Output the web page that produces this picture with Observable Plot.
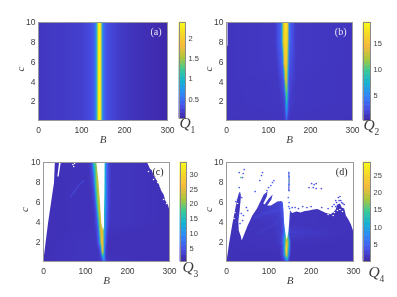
<!DOCTYPE html>
<html><head><meta charset="utf-8">
<script src="https://cdn.jsdelivr.net/npm/d3@7"></script>
<script src="https://cdn.jsdelivr.net/npm/@observablehq/plot@0.6"></script>
<style>
html,body{margin:0;padding:0;background:#fff;width:397px;height:297px;overflow:hidden}
#root{position:relative;width:397px;height:297px;filter:blur(0.45px)}
svg{position:absolute;overflow:visible;background:transparent}
</style></head><body><div id="root"></div>
<script>
// Parula anchors
const parulaStops = [0,.125,.25,.375,.5,.625,.75,.875,1];
const parulaColors = ["#3e26a8","#4752ea","#2e87f7","#11b1d6","#37c897","#abc739","#f5b93a","#f5d825","#f9fb15"];

const xTicks = [0,100,200,300];
const yTicks = [2,4,6,8,10];

// (a) Q1: same profile at every c
const a_c = [0.1,10];
const a_B = [0,60,100,120,128,133,135.5,137,139,142,144.5,146,147.5,150,155,165,185,220,260,300];
const a_Q = [.14,.17,.2,.28,.38,.55,.95,1.6,2.3,2.38,2.3,1.7,1,.55,.36,.26,.18,.12,.08,.05];

// (b) Q2
const b_c = [0.1,2,4,6,8,10];
const b_B = [
 [0,134,140,142,143,144,146,150,300],
 [0,128,136,140,141.5,143,144.5,147,150,165,300],
 [0,122,132,137,139.5,142,144.5,147,150,165,300],
 [0,118,128,134,137,141.5,145.5,148,151,165,300],
 [0,115,124,131,135.5,141,145.5,148.5,152,165,300],
 [0,115,124,131,136,141,146,149,153,165,300]];
const b_Q = [
 [.9,1,1.4,3,6,3,1.4,1,.9],
 [1,1.1,1.5,2.5,7,10.5,7,2.5,1.5,1.1,1],
 [1,1.1,2,3,11,14.5,11,3.5,2,1.1,1],
 [1,1.2,2.5,4,14,16.5,13,4.5,2.5,1.2,1],
 [1,1.2,2.5,4,15,17.5,15,5,3,1.2,1],
 [1,1.2,2.5,4,15,18.5,15,5,3,1.2,1]];

// (c) Q3
const c_c = [0.1,1,2,4,6,8,10];
const c_B = [
 [0,136,141,144,147,152,300],
 [0,132,137,140,142.5,145,148,154,300],
 [0,126,133,137,141,144,147,153,300],
 [0,120,128,133,137,144,146.5,151,158,300],
 [0,116,123,128,133,145.5,147.5,152,160,300],
 [0,110,119,124,129,146,148,152,160,300],
 [0,106,115,119,124,146,148,152,160,300]];
const c_Q = [
 [1.5,2,4,9,4,2,1.5],
 [1.5,2,6,25,22,8,3,1.5],
 [1.5,2,7,24,28,14,6,1.5],
 [1.5,1.7,5,20,25,16,10,5,2,1.5],
 [1.5,1.7,4,18,24,14,11,5,2,1.5],
 [1.5,1.7,4,17,24,14,11,5,2,1.5],
 [1.5,1.7,4,16,20,14,10,5,2,1.5]];
const c_holeLeftB = [0,5,11,18,25,27,0];
const c_holeLeftC = [0.3,2,4,6,8,10,10];
const c_streakB = [33,36,41,37];
const c_streakC = [8.6,8.6,10,10];
const c_holeMidB = [126,131,134.5,137.5,139.5,142,144,144,145,145.5];
const c_holeMidC = [10,8,6,4,3.6,3.2,3.6,5,7,10];
const c_holeRightB = [247,252,258,262,270,276,280,286,290,296,300,300];
const c_holeRightC = [10,9.5,9.2,8.7,8.2,7.7,7.2,6.8,6.2,5.8,5.2,10];
const c_flakeB = [70,74,72,250,255,262,264,272,278,286,293];
const c_flakeC = [9.8,9.9,9.6,9.1,9.4,8.3,8.9,8.0,7.6,6.3,5.9];
const c_glowB = [65,80,95];
const c_glowC = [6.6,7.5,8.2];

// (d) Q4
const d_c = [0.1,.8,1.4,2,3,4,5,6,10];
const d_B = [
 [0,130,138,142,146,152,300],
 [0,125,133,138,142,146,150,300],
 [0,125,132,137,140.5,145,149,153,300],
 [0,118,130,136,140,144,148,152,300],
 [0,110,130,136,141,145,148,300],
 [0,70,110,128,134,139,146,150,300],
 [0,60,90,125,133,140,148,152,300],
 [0,60,90,125,133,140,148,152,300],
 [0,120,135,146,150,300]];
const d_Q = [
 [1,1,2.5,6,2.5,1,1],
 [1,1,3,12,24,10,2,1],
 [1,1.1,2.5,9,27,16,6,1,1],
 [1,1.2,2.5,8,18,22,10,1.2,1],
 [1.1,1.3,2,5,15,13,2,1.1],
 [1.2,1.3,1.5,2,3.5,8,6,1.3,1.1],
 [1.2,1.4,1.8,2.2,3.5,7,5,1.3,1.1],
 [1.2,1.4,1.8,2.4,4.5,7,5,1.3,1.2],
 [1.2,1.2,2,2,1.2,1.2]];
const d_outB = [0,6,14,20,24,29,32,34,31,28,29,34,36,50,61,72,80,88,97,95,87,90,100,109,106,96,105,120,130,133,135,136,139,141,143,146,148,149.5,150,155,165,175,185,195,205,215,225,235,245,252,258,262,268,272,278,282,288,294,298,300,300,0];
const d_outC = [.1,1.9,3.9,5.2,6.1,6.9,7.1,6.6,5.2,4.1,3.2,2.6,2.2,3.7,4.7,5.4,6.1,6.8,7.1,6.6,5.9,5.8,6.4,6.8,6.3,5.7,5.7,6.1,6.15,6,5,4,3,2.4,2.4,3,4,5,5.2,4.95,5.1,5,5.15,5.2,5.3,5.35,5.15,4.95,4.85,5,5.3,5.8,5.9,5.5,5.4,4.7,4.3,3.8,3.3,3,10,10];
const d_dotB = [41.7,39.4,37.8,33.9,30,30,31.5,26,22,36,47,50,67.7,85,82.7,78.7,112,108.6,104.7,99.2,95.3,91.3,147,147.5,148,147.5,148,146,148,147,149,201,207,212,205,195,212,224,155,162,170,180,190,200,225,240,250,258,264,268,270,254,275,278,28,32,38,35,40,260,266,272,262,258];
const d_dotC = [9.3,8.9,8.5,8.5,9,7.5,6.8,6.3,6.1,6.5,5.5,5.2,7.1,9,8.7,8.2,8.2,8,7.7,7.5,7.2,6.8,9,8.6,8.2,7.8,7.2,6.5,6,5.6,5.4,7.9,7.8,7.9,7.5,7.5,7.4,7.4,5.5,5.5,5.4,5.6,5.5,5.6,5.5,5.4,5.6,6.2,6.5,6.6,6.2,5.8,5.9,5.8,4.6,3.9,4.2,4.9,4.7,6.0,6.2,6.0,5.7,5.6];
const d_dotQ = [4,4,4,15,4,4,4,4,4,4,3,3,4,4,4,4,4,4,4,4,4,4,6,7,15,7,5,6,5,5,5,3,3,3,3,3,3,3,3,3,3,3,3,3,3,3,3,3,3,3,3,3,3,3,4,4,4,4,4,3,3,3,3,3];
const d_whiteB = [255,262,268,240,246,252,274,20,26,18];
const d_whiteC = [5.0,5.2,5.3,4.8,4.9,4.7,5.1,5.0,5.9,4.4];
const d_faint1B = [73,95,120];
const d_faint1C = [2.9,3.4,4];
const d_faint2B = [66,90,125];
const d_faint2C = [4.5,4.9,5.3];
const d_streakB = [147,147.5,148,147.5,147];
const d_streakC = [9,8.6,8.2,7.8,7.2];

const cbTicksA = [.5,1,1.5,2];
const cbTicksB = [5,10,15];
const cbTicksC = [5,10,15,20,25,30];
const cbTicksD = [5,10,15,20,25];

const SANS = "'Liberation Sans',Arial,sans-serif";
const SERIF = "'Liberation Serif','Times New Roman',serif";
const TXT = "#3c3c3c", FRAME = "#9a9a9a";
const root = document.getElementById("root");

function colorScale(dom){
  return {type:"linear",domain:parulaStops.map(t=>dom[0]+t*(dom[1]-dom[0])),range:parulaColors};
}
function samples(cs,Bs,Qs){
  const out=[];
  cs.forEach((c,i)=>{
    const B=Array.isArray(Bs[0])?Bs[i]:Bs, Q=Array.isArray(Qs[0])?Qs[i]:Qs;
    B.forEach((b,j)=>out.push({b,c,q:Q[j]}));
  });
  return out;
}
const zip=(B,C)=>B.map((b,i)=>({b,c:C[i]}));
const poly=(B,C,fill="white")=>Plot.line(zip(B,C),{x:"b",y:"c",fill,stroke:"none",curve:"linear",clip:true});

function panel({l,r,t,b,dom,cs,Bs,Qs,extra=[],label,labelFill,cLabelX}){
  const mL=45,mR=12,mT=6,mB=30;
  const svg=Plot.plot({
    width:r-l+mL+mR,height:b-t+mT+mB,marginLeft:mL,marginRight:mR,marginTop:mT,marginBottom:mB,
    style:{position:"absolute",left:(l-mL)+"px",top:(t-mT)+"px",background:"transparent",overflow:"visible"},
    x:{domain:[0,300]},y:{domain:[0.1,10]},
    color:colorScale(dom),
    marks:[
      Plot.raster(samples(cs,Bs,Qs),{x:"b",y:"c",fill:"q",interpolate:"barycentric",pixelSize:1,imageRendering:"auto"}),
      ...extra,
      Plot.frame({stroke:FRAME,strokeWidth:1}),
      Plot.axisX(xTicks,{tickSize:0,tickPadding:6,fontSize:8.5,fontFamily:SANS,fill:TXT,label:null}),
      Plot.axisY(yTicks,{tickSize:0,tickPadding:3,fontSize:8.5,fontFamily:SANS,fill:TXT,label:null}),
      Plot.text(["B"],{frameAnchor:"bottom",dy:22,fontFamily:SERIF,fontStyle:"italic",fontSize:11,fill:TXT}),
      Plot.text(["c"],{frameAnchor:"left",dx:cLabelX,rotate:-90,fontFamily:SERIF,fontStyle:"italic",fontSize:11,fill:TXT}),
      Plot.text([label],{frameAnchor:"top-right",dx:-6,dy:5,fontFamily:SERIF,fontSize:10,fill:labelFill})
    ]
  });
  root.appendChild(svg);
}
function colorbar({l,r,t,b,dom,ticks,sub,qx,qy}){
  const mL=2,mR=24,mT=2,mB=26;
  const n=120, levels=d3.range(n).map(i=>dom[0]+(dom[1]-dom[0])*i/n), step=(dom[1]-dom[0])/n;
  const svg=Plot.plot({
    width:r-l+mL+mR,height:b-t+mT+mB,marginLeft:mL,marginRight:mR,marginTop:mT,marginBottom:mB,
    style:{position:"absolute",left:(l-mL)+"px",top:(t-mT)+"px",background:"transparent",overflow:"visible"},
    x:{domain:[0,1],axis:null},y:{domain:dom},color:colorScale(dom),
    marks:[
      Plot.rectY(levels,{x1:0,x2:1,y1:d=>d,y2:d=>d+step,fill:d=>d,inset:-0.3}),
      Plot.frame({stroke:"#8a8a8a",strokeWidth:1}),
      Plot.axisY(ticks,{anchor:"right",tickSize:0,tickPadding:3,fontSize:7.5,fontFamily:SANS,fill:TXT,label:null,tickFormat:d=>String(d)}),
      Plot.text(["Q"],{frameAnchor:"bottom-left",dx:qx,dy:qy,textAnchor:"start",fontFamily:SERIF,fontStyle:"italic",fontSize:15.5,fill:TXT}),
      Plot.text([sub],{frameAnchor:"bottom-left",dx:qx+11,dy:qy+5,textAnchor:"start",fontFamily:SERIF,fontSize:9.5,fill:TXT})
    ]
  });
  root.appendChild(svg);
}

panel({l:38,r:167,t:22,b:120,dom:[.03,2.39],cs:a_c,Bs:a_B,Qs:a_Q,label:"(a)",labelFill:"#e8e8f4",cLabelX:-18});
colorbar({l:179,r:185,t:22,b:118,dom:[.03,2.39],ticks:cbTicksA,sub:"1",qx:0,qy:9});

panel({l:226,r:352,t:22,b:120,dom:[.2,19.04],cs:b_c,Bs:b_B,Qs:b_Q,label:"(b)",labelFill:"#e8e8f4",cLabelX:-18,
  extra:[Plot.rect([0],{x1:1.5,x2:4,y1:7.6,y2:10,fill:"#d8d8ee"})]});
colorbar({l:363,r:370,t:22,b:120,dom:[.2,19.04],ticks:cbTicksB,sub:"2",qx:0,qy:9});

panel({l:43,r:169,t:162,b:261,dom:[.5,34],cs:c_c,Bs:c_B,Qs:c_Q,label:"(c)",labelFill:"#222",cLabelX:-19,
  extra:[
    Plot.line(zip(c_glowB,c_glowC),{x:"b",y:"c",stroke:"#4a4ce0",strokeWidth:1.6,strokeOpacity:.6}),
    poly(c_holeLeftB,c_holeLeftC),poly(c_streakB,c_streakC),poly(c_holeMidB,c_holeMidC),poly(c_holeRightB,c_holeRightC),
    Plot.dot(zip(c_flakeB,c_flakeC),{x:"b",y:"c",r:.8,fill:"white",clip:true})
  ]});
colorbar({l:180,r:186,t:162,b:261,dom:[.5,34],ticks:cbTicksC,sub:"3",qx:2,qy:10});

panel({l:226,r:353,t:162,b:261,dom:[.1,28.7],cs:d_c,Bs:d_B,Qs:d_Q,label:"(d)",labelFill:"#222",cLabelX:-18,
  extra:[
    Plot.line(zip(d_faint1B,d_faint1C),{x:"b",y:"c",stroke:"#4a4ce0",strokeWidth:1,strokeOpacity:.5}),
    Plot.line(zip(d_faint2B,d_faint2C),{x:"b",y:"c",stroke:"#4a4ce0",strokeWidth:3,strokeOpacity:.3}),
    poly(d_outB,d_outC),
    Plot.line(zip(d_streakB,d_streakC),{x:"b",y:"c",stroke:"#7a78e0",strokeWidth:1.5}),
    Plot.dot(zip(d_whiteB,d_whiteC),{x:"b",y:"c",r:.8,fill:"white",clip:true}),
    Plot.dot(d_dotB.map((b,i)=>({b,c:d_dotC[i],q:d_dotQ[i]})),{x:"b",y:"c",r:.85,fill:"q",clip:true})
  ]});
colorbar({l:363,r:370,t:162,b:261,dom:[.1,28.7],ticks:cbTicksD,sub:"4",qx:5,qy:15});
</script></body></html>
